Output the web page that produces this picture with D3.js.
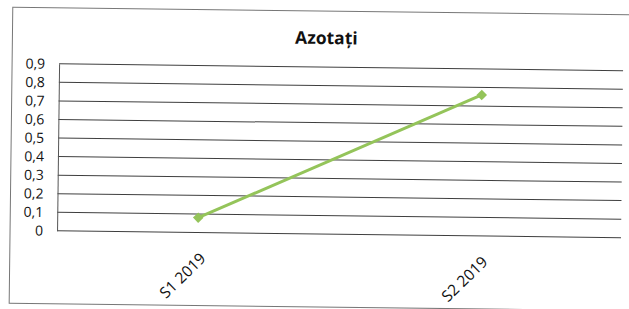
<!DOCTYPE html>
<html>
<head>
<meta charset="utf-8">
<script src="https://cdn.jsdelivr.net/npm/d3@7"></script>
<style>
  body { margin: 0; background: #fff; }
  text { font-family: "Open Sans", "Noto Sans", sans-serif; }
</style>
</head>
<body>
<div class="canvas"></div>
<script>
// data
const categories = ['S1 2019', 'S2 2019'];
const values = [0.08, 0.76];
const yTicks = [0, 0.1, 0.2, 0.3, 0.4, 0.5, 0.6, 0.7, 0.8, 0.9];
const title = 'Azotați';

const width = 629;
const height = 309;

const svg = d3.select('.canvas')
  .append('svg')
  .attr('width', width)
  .attr('height', height);

// scanned page is slightly tilted
const page = svg.append('g')
  .attr('transform', 'rotate(0.7, 320, 155)');

// outer frame
page.append('rect')
  .attr('x', 11)
  .attr('y', 11)
  .attr('width', 625)
  .attr('height', 296)
  .attr('fill', 'none')
  .attr('stroke', '#777')
  .attr('stroke-width', 1);

// plot area
const margin = { top: 67, left: 58 };
const graphWidth = 564;
const graphHeight = 167;

const graph = page.append('g')
  .attr('transform', `translate(${margin.left}, ${margin.top})`);

// scales
const x = d3.scaleBand()
  .domain(categories)
  .range([0, graphWidth]);

const y = d3.scaleLinear()
  .domain([0, 0.9])
  .range([graphHeight, 0]);

const ro = d3.formatLocale({ decimal: ',', thousands: '.', grouping: [3], currency: ['', ''] });
const fmt = ro.format('.1f');

// gridlines
graph.append('g')
  .selectAll('line')
  .data(yTicks)
  .enter()
  .append('line')
  .attr('x1', 0)
  .attr('x2', graphWidth)
  .attr('y1', d => y(d))
  .attr('y2', d => y(d))
  .attr('stroke', '#3f3f3f')
  .attr('stroke-width', 1);

// y axis
const yAxis = d3.axisLeft(y)
  .tickValues(yTicks)
  .tickSize(0)
  .tickPadding(14)
  .tickFormat(d => d === 0 ? '0' : fmt(d));

const yAxisGroup = graph.append('g').call(yAxis);
yAxisGroup.select('.domain').attr('stroke', '#555');
yAxisGroup.selectAll('text')
  .attr('font-size', 14)
  .attr('fill', '#111');

// x axis
const xAxis = d3.axisBottom(x).tickSize(0).tickPadding(0);
const xAxisGroup = graph.append('g')
  .attr('transform', `translate(0, ${graphHeight})`)
  .call(xAxis);
xAxisGroup.select('.domain').remove();
xAxisGroup.selectAll('text')
  .attr('font-size', 15.5)
  .attr('fill', '#111')
  .attr('text-anchor', 'end')
  .attr('dy', 0)
  .attr('transform', 'translate(9, 27) rotate(-45)');

// line
const cx = (d, i) => x(categories[i]) + x.bandwidth() / 2;
const line = d3.line()
  .x(cx)
  .y(d => y(d));

graph.append('path')
  .datum(values)
  .attr('d', line)
  .attr('fill', 'none')
  .attr('stroke', '#94c45a')
  .attr('stroke-width', 3);

graph.selectAll('.marker')
  .data(values)
  .enter()
  .append('path')
  .attr('class', 'marker')
  .attr('d', d3.symbol().type(d3.symbolSquare).size(56))
  .attr('transform', (d, i) => `translate(${cx(d, i)}, ${y(d)}) rotate(45)`)
  .attr('fill', '#94c45a');

// title
page.append('text')
  .attr('x', 325)
  .attr('y', 44)
  .attr('text-anchor', 'middle')
  .attr('font-size', 17.5)
  .attr('font-weight', 'bold')
  .attr('fill', '#111')
  .text(title);
</script>
</body>
</html>
